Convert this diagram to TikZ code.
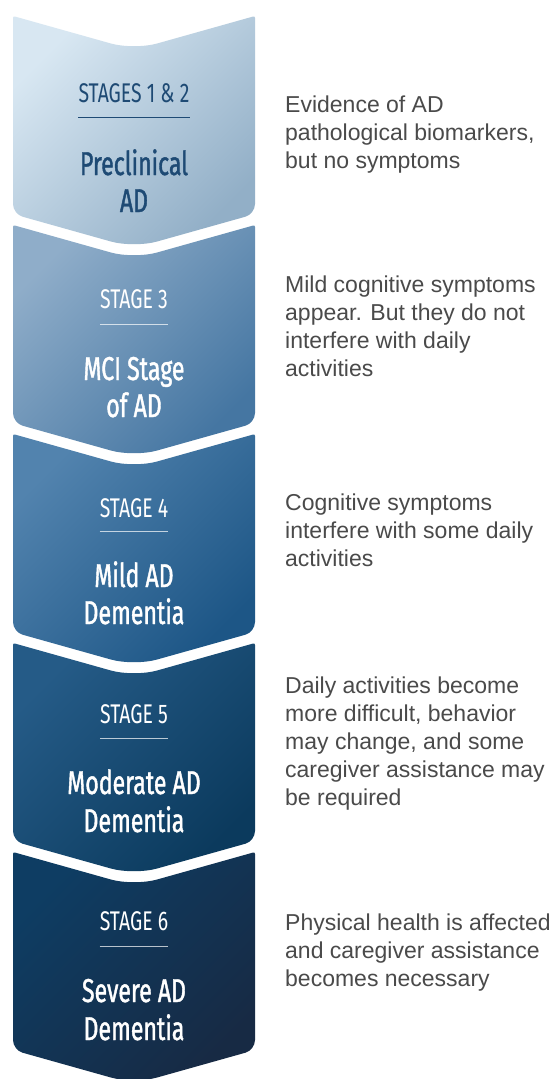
\documentclass[tikz,border=0pt]{standalone}
\usepackage{fontspec}
\setmainfont{Liberation Sans}
\newfontfamily\condfont[FakeStretch=0.72]{Fira Sans}
\newfontfamily\titlefont[FakeStretch=0.7, FakeBold=1.2]{Fira Sans}
\definecolor{cA1}{HTML}{D8E7F2}\definecolor{cB1}{HTML}{92AFC7}
\definecolor{cA2}{HTML}{8FADC9}\definecolor{cB2}{HTML}{4576A2}
\definecolor{cA3}{HTML}{5283AE}\definecolor{cB3}{HTML}{1D5686}
\definecolor{cA4}{HTML}{255B87}\definecolor{cB4}{HTML}{0B3A5D}
\definecolor{cA5}{HTML}{0E3D63}\definecolor{cB5}{HTML}{172A44}
\definecolor{darkblue}{HTML}{1E4A74}
\definecolor{desctext}{HTML}{4A4A4A}
\newcommand\chevron[3]{%
  \shade[top color=#2, bottom color=#3, shading angle=45]
    (13,#1+100) [rounded corners=2] -- (13,#1) [rounded corners=24] -- (134,#1+34)
    [rounded corners=2] -- (255,#1) [rounded corners=10] -- (255,#1+198)
    [rounded corners=24] -- (134,#1+232) [rounded corners=10] -- (13,#1+198) -- cycle;}
\newcommand\dline[1]{\hbox{#1}}
\begin{document}
\begin{tikzpicture}[x=1pt,y=-1pt,
  lab/.style={font=\condfont\fontsize{27}{27}\selectfont, inner sep=0, anchor=base},
  ttl/.style={font=\titlefont\fontsize{33}{33}\selectfont, inner sep=0, anchor=base},
  rule/.style={line width=0.9pt},
  desc/.style={font=\fontsize{23}{28}\selectfont, text=desctext, inner sep=0, anchor=base west}]
\useasboundingbox[fill=white] (0,0) rectangle (549,1079);
\chevron{16}{cA1}{cB1}
\chevron{225}{cA2}{cB2}
\chevron{434}{cA3}{cB3}
\chevron{643}{cA4}{cB4}
\chevron{852}{cA5}{cB5}
% stage 1-2
\node[lab, text=darkblue] (s1) at (134,102) {STAGES 1 \& 2};
\draw[rule, darkblue] ([yshift=-15pt]s1.base west) -- ([yshift=-15pt]s1.base east);
\node[ttl, text=darkblue] (t1a) at (134,175) {Preclinical};
\node[ttl, text=darkblue] (t1b) at (134,212) {AD};
% stage 3
\node[lab, text=white] (s2) at (134,308) {STAGE 3};
\draw[rule, white, opacity=0.7] ([yshift=-16pt]s2.base west) -- ([yshift=-16pt]s2.base east);
\node[ttl, text=white] (t2a) at (134,380) {MCI Stage};
\node[ttl, text=white] (t2b) at (134,417) {of AD};
% stage 4
\node[lab, text=white] (s3) at (134,517) {STAGE 4};
\draw[rule, white, opacity=0.7] ([yshift=-14pt]s3.base west) -- ([yshift=-14pt]s3.base east);
\node[ttl, text=white] (t3a) at (134,587) {Mild AD};
\node[ttl, text=white] (t3b) at (134,624) {Dementia};
% stage 5
\node[lab, text=white] (s4) at (134,723) {STAGE 5};
\draw[rule, white, opacity=0.7] ([yshift=-15pt]s4.base west) -- ([yshift=-15pt]s4.base east);
\node[ttl, text=white] (t4a) at (134,794) {Moderate AD};
\node[ttl, text=white] (t4b) at (134,832) {Dementia};
% stage 6
\node[lab, text=white] (s5) at (134,930) {STAGE 6};
\draw[rule, white, opacity=0.7] ([yshift=-16pt]s5.base west) -- ([yshift=-16pt]s5.base east);
\node[ttl, text=white] (t5a) at (134,1002) {Severe AD};
\node[ttl, text=white] (t5b) at (134,1040) {Dementia};
% descriptions
\node[desc] (d1) at (285,112) {\vtop{\dline{Evidence of AD}\dline{pathological biomarkers,}\dline{but no symptoms}}};
\node[desc] (d2) at (285,292) {\vtop{\dline{Mild cognitive symptoms}\dline{appear. But they do not}\dline{interfere with daily}\dline{activities}}};
\node[desc] (d3) at (285,510) {\vtop{\dline{Cognitive symptoms}\dline{interfere with some daily}\dline{activities}}};
\node[desc] (d4) at (285,693) {\vtop{\dline{Daily activities become}\dline{more difficult, behavior}\dline{may change, and some}\dline{caregiver assistance may}\dline{be required}}};
\node[desc] (d5) at (285,930) {\vtop{\dline{Physical health is affected}\dline{and caregiver assistance}\dline{becomes necessary}}};
\end{tikzpicture}
\end{document}
